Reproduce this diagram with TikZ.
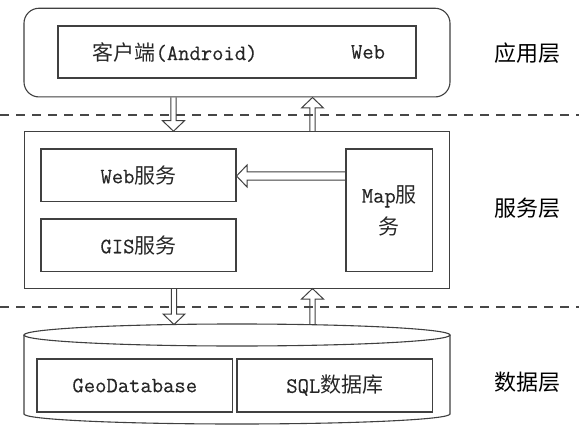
\documentclass[tikz,border=0pt]{standalone}
\usepackage{fontspec}
\setmainfont{Liberation Serif}
\newfontfamily\cjk{Noto Sans CJK SC}
\newfontfamily\lat[FakeBold=0.3]{Latin Modern Mono}
\usetikzlibrary{calc}
\newcommand\zh[1]{{\fontsize{21}{32}\cjk #1}}
\newcommand\en[1]{{\fontsize{22}{32}\lat #1}}
% hollow block arrow from #1 (base) to #2 (tip); #3 = half shaft width
\newcommand\blockarrow[3]{%
  \coordinate (bah) at ($(#2)!10.5pt!(#1)$);
  \draw[arrline] ($(#1)!#3!90:(#2)$) -- ($(bah)!#3!90:(#2)$) -- ($(bah)!11pt!90:(#2)$)
    -- (#2) -- ($(bah)!11pt!-90:(#2)$) -- ($(bah)!#3!-90:(#2)$) -- ($(#1)!#3!-90:(#2)$);
}
\begin{document}
\begin{tikzpicture}[x=1pt,y=1pt,
  line/.style={draw=black!75, line width=1.1pt},
  arrline/.style={draw=black!75, line width=1pt},
  boxtext/.style={text=black!85, inner sep=0pt, align=center},
  plainbox/.style={line, rectangle, boxtext},
  layerlabel/.style={text=black, inner sep=0pt, font=\fontsize{22}{26}\cjk},
  sep/.style={draw=black!72, line width=2pt, dash pattern=on 9pt off 7pt}]
\useasboundingbox (0,0) rectangle (579,-428);
\fill[white] (0,0) rectangle (579,-428);

% application layer
\node[plainbox, rounded corners=15pt, minimum width=426pt, minimum height=88.7pt] (app) at (237,-52.6) {};
\node[plainbox, minimum width=358pt, minimum height=52pt] (appin) at (237,-52) {};
\node[boxtext] (client) at (175,-52) {\zh{客户端}\en{(Android)}};
\node[boxtext] (webc) at (368,-52) {\en{Web}};

% service layer
\node[plainbox, minimum width=425.5pt, minimum height=156.3pt] (svc) at (236.8,-209.9) {};
\node[plainbox, minimum width=195pt, minimum height=52.7pt] (web) at (138.5,-175.3) {\en{Web}\zh{服务}};
\node[plainbox, minimum width=195pt, minimum height=52.7pt] (gis) at (138.5,-245.3) {\en{GIS}\zh{服务}};
\node[plainbox, minimum width=86.7pt, minimum height=122.7pt] (map) at (389.3,-210.3) {};
\node[boxtext, font=\fontsize{21}{32}\selectfont] (maptext) at (389.3,-211) {\en{Map}\zh{服}\\\zh{务}};

% data layer: cylinder
\coordinate (cylc) at (237,-335);
\draw[line] (24,-335) -- (24,-414) arc[start angle=180, end angle=360, x radius=213, y radius=10] -- (450,-335);
\draw[line, fill=white] (cylc) ellipse[x radius=213, y radius=11];
\node[plainbox, minimum width=195.7pt, minimum height=53pt] (geo) at (134.8,-385.5) {\en{GeoDatabase}};
\node[plainbox, minimum width=195.7pt, minimum height=53pt] (sql) at (334.8,-385.5) {\en{SQL}\zh{数据库}};

% layer labels
\node[layerlabel] (l1) at (527,-53) {应用层};
\node[layerlabel] (l2) at (527,-208) {服务层};
\node[layerlabel] (l3) at (527,-382) {数据层};

% arrows
\coordinate (xa) at (173.5,0);
\coordinate (xb) at (312.5,0);
\coordinate (cyltopA) at (174,-324.5);
\coordinate (cyltopB) at (312.5,-324.7);
\blockarrow{xa |- app.south}{xa |- svc.north}{2.6pt}
\blockarrow{xb |- svc.north}{xb |- app.south}{2.6pt}
\blockarrow{map.west |- 0,-176}{web.east |- 0,-176}{4.2pt}
\blockarrow{svc.south -| cyltopA}{cyltopA}{2.6pt}
\blockarrow{cyltopB}{svc.south -| cyltopB}{2.6pt}

% dashed separators (drawn over the arrows, as in the reference)
\coordinate (s1l) at (0,-115); \coordinate (s1r) at (579,-115);
\coordinate (s2l) at (0,-306.5); \coordinate (s2r) at (579,-306.5);
\draw[sep] (s1l) -- (s1r);
\draw[sep] (s2l) -- (s2r);
\end{tikzpicture}
\end{document}
